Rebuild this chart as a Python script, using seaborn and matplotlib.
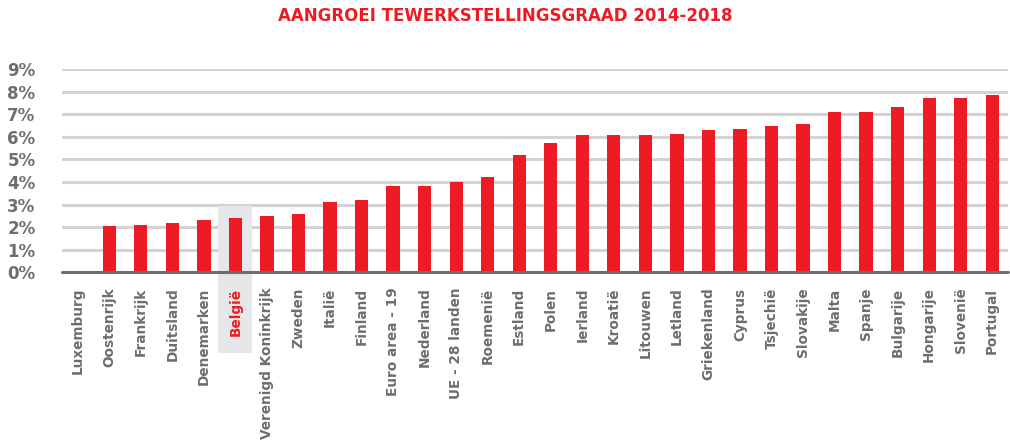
import matplotlib
matplotlib.use("Agg")
import matplotlib.pyplot as plt
from matplotlib.patches import Rectangle
from matplotlib.ticker import FuncFormatter
import seaborn as sns
import pandas as pd

# data (employment rate growth 2014-2018, %)
landen = [
    "Luxemburg", "Oostenrijk", "Frankrijk", "Duitsland", "Denemarken", "België",
    "Verenigd Koninkrijk", "Zweden", "Italië", "Finland", "Euro area - 19",
    "Nederland", "UE - 28 landen", "Roemenië", "Estland", "Polen", "Ierland",
    "Kroatië", "Litouwen", "Letland", "Griekenland", "Cyprus", "Tsjechië",
    "Slovakije", "Malta", "Spanje", "Bulgarije", "Hongarije", "Slovenië", "Portugal",
]
groei = [
    0.0, 2.05, 2.09, 2.18, 2.31, 2.40,
    2.49, 2.58, 3.11, 3.20, 3.82,
    3.82, 4.00, 4.22, 5.19, 5.72, 6.07,
    6.07, 6.07, 6.12, 6.29, 6.34, 6.47,
    6.56, 7.09, 7.09, 7.31, 7.71, 7.71, 7.84,
]
y_ticks = list(range(0, 10))
highlight = "België"

RED = "#ed1c24"
GREY_TXT = "#6d6e71"
GRID = "#d1d3d4"
BOX = "#e6e7e8"

sns.set_style("white")
plt.rcParams["font.family"] = ["DejaVu Sans"]

df = pd.DataFrame({"land": landen, "groei": groei})

fig = plt.figure(figsize=(10.10, 4.48), dpi=100)
ax = fig.add_axes([62 / 1010, 1 - 272.3 / 448, 946 / 1010, 203.3 / 448])
ax.set_axisbelow(False)

sns.barplot(data=df, x="land", y="groei", color=RED, width=0.42,
            saturation=1, linewidth=0, ax=ax, zorder=3)

ax.set_ylim(0, 9)
ax.set_xlim(-0.5, len(landen) - 0.5)
ax.set_yticks(y_ticks)
ax.yaxis.set_major_formatter(FuncFormatter(lambda v, p: f"{v:.0f}%"))
for t in y_ticks[1:]:
    ax.axhline(t, color=GRID, lw=2.2, zorder=0)
ax.axhline(0, color=GREY_TXT, lw=2.2, zorder=4, clip_on=False)

# grey highlight box behind Belgium
i = landen.index(highlight)
ax.add_patch(Rectangle((i - 0.54, -3.57), 1.08, 3.57 + 2.93, facecolor=BOX,
                       edgecolor="none", zorder=1, clip_on=False))

ax.set_xlabel("")
ax.set_ylabel("")
ax.tick_params(axis="both", length=0)
ax.tick_params(axis="y", pad=19, labelsize=12, labelcolor=GREY_TXT)
ax.tick_params(axis="x", pad=11, labelsize=9.8, labelcolor=GREY_TXT)
ax.set_xticks(range(len(landen)))
ax.set_xticklabels(landen, rotation=90, fontweight="bold")
for lbl in ax.get_yticklabels():
    lbl.set_fontweight("bold")
for lbl in ax.get_xticklabels():
    if lbl.get_text() == highlight:
        lbl.set_color(RED)
sns.despine(ax=ax, left=True, bottom=True)

fig.text(0.5, 1 - 16 / 448, "AANGROEI TEWERKSTELLINGSGRAAD 2014-2018",
         ha="center", va="center", color=RED, fontsize=12, fontweight="bold")

fig.savefig("out.png", dpi=100)
